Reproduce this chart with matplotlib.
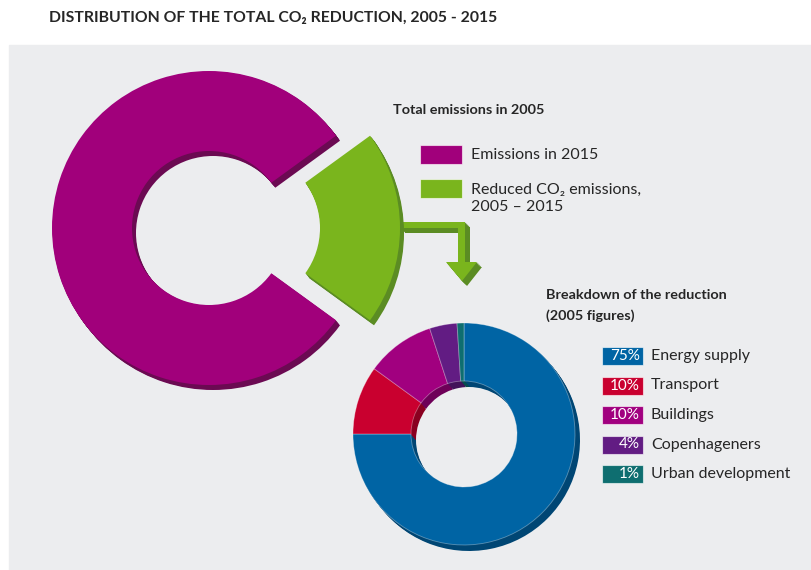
import matplotlib.pyplot as plt
import matplotlib.patches as patches

plt.rcParams['font.family'] = ['Lato', 'DejaVu Sans']

# total emissions in 2005 (percent)
total_labels = ["Emissions in 2015", "Reduced CO₂ emissions,\n2005 – 2015"]
total_values = [80, 20]
total_colors = ["#A1007B", "#7AB51D"]
total_dark = ["#6B0A52", "#5B8C23"]

# breakdown of the reduction (percent, 2005 figures)
sectors = ["Energy supply", "Transport", "Buildings", "Copenhageners", "Urban development"]
sector_pct = [75, 10, 10, 4, 1]
sector_colors = ["#0064A4", "#C9002F", "#A1007F", "#621C83", "#0E6E70"]
sector_dark = ["#004674", "#8A0020", "#6E0058", "#42125A", "#084C4E"]

W, H = 812, 570
text_col = "#262626"


def Y(y):
    # pixel row -> axes y
    return H - y


fig = plt.figure(figsize=(W / 100, H / 100), dpi=100)
fig.patch.set_facecolor("white")
ax = fig.add_axes([0, 0, 1, 1])

# grey panel
ax.add_patch(patches.Rectangle((9, 0), W - 9, Y(45), color="#ECEDEF", zorder=0))

# big donut: reduction wedge first, pulled out to the right
big_vals = [total_values[1], total_values[0]]
big_cols = [total_colors[1], total_colors[0]]
big_dark = [total_dark[1], total_dark[0]]
big_start = -total_values[1] / sum(total_values) * 180
steps = 6
for k in range(steps, 0, -1):
    dx, dy = 4 * k / steps, 5 * k / steps
    ax.pie(big_vals, colors=big_dark, radius=157, center=(209 + dx, Y(228) - dy),
           startangle=big_start, explode=[34, 0],
           wedgeprops=dict(width=80, linewidth=0))
ax.pie(big_vals, colors=big_cols, radius=157, center=(209, Y(228)),
       startangle=big_start, explode=[34, 0],
       wedgeprops=dict(width=80, linewidth=0))

# arrow from the green wedge down to the breakdown
arrow = [(400, 222), (465, 222), (465, 262), (477, 262), (462, 281),
         (446, 262), (458, 262), (458, 228), (400, 228)]
for k in range(steps, 0, -1):
    d = 5 * k / steps
    ax.add_patch(patches.Polygon([(x + d, Y(y) - d) for x, y in arrow],
                                 closed=True, color="#5B8C23", lw=0, zorder=0.5))
ax.add_patch(patches.Polygon([(x, Y(y)) for x, y in arrow], closed=True,
                             color="#7AB51D", lw=0, zorder=0.6))

# small donut, clockwise from 12 o'clock
for k in range(steps, 0, -1):
    dx, dy = 5 * k / steps, 6 * k / steps
    ax.pie(sector_pct, colors=sector_dark, radius=111, center=(464 + dx, Y(434) - dy),
           startangle=90, counterclock=False,
           wedgeprops=dict(width=58, linewidth=0))
ax.pie(sector_pct, colors=sector_colors, radius=111, center=(464, Y(434)),
       startangle=90, counterclock=False,
       wedgeprops=dict(width=58, linewidth=0.6, edgecolor=(1, 1, 1, 0.35)))

ax.set_xlim(0, W)
ax.set_ylim(0, H)
ax.set_aspect("auto")
ax.axis("off")

# title
ax.text(49, Y(18), "DISTRIBUTION OF THE TOTAL CO₂ REDUCTION, 2005 - 2015",
        fontsize=11.3, fontweight="bold", color=text_col, va="center", ha="left")

# legend for the totals
ax.text(393, Y(110), "Total emissions in 2005", fontsize=10.4, fontweight="bold",
        color=text_col, va="center")
for i, (lab, col) in enumerate(zip(total_labels, total_colors)):
    top = 145 + i * 34
    ax.add_patch(patches.Rectangle((420, Y(top + 19)), 42, 19, facecolor=col,
                                   edgecolor=(1, 1, 1, 0.6), lw=0.8, zorder=3))
    yc = top + 10 + lab.count("\n") * 9.5
    ax.text(471, Y(yc), lab, fontsize=11.5, color=text_col, va="center",
            linespacing=1.25)

# legend for the breakdown
ax.text(546, Y(295), "Breakdown of the reduction", fontsize=10.4, fontweight="bold",
        color=text_col, va="center")
ax.text(546, Y(316), "(2005 figures)", fontsize=10.4, fontweight="bold",
        color=text_col, va="center")
for i, (lab, pct, col) in enumerate(zip(sectors, sector_pct, sector_colors)):
    yc = 356 + i * 29.5
    ax.add_patch(patches.Rectangle((602, Y(yc + 9)), 41, 18, facecolor=col,
                                   edgecolor=(1, 1, 1, 0.6), lw=0.8, zorder=3))
    ax.text(640, Y(yc), f"{pct}%", fontsize=11, color="white", ha="right",
            va="center", zorder=4)
    ax.text(651, Y(yc), lab, fontsize=11.5, color=text_col, va="center")

fig.savefig("out.png", dpi=100)
